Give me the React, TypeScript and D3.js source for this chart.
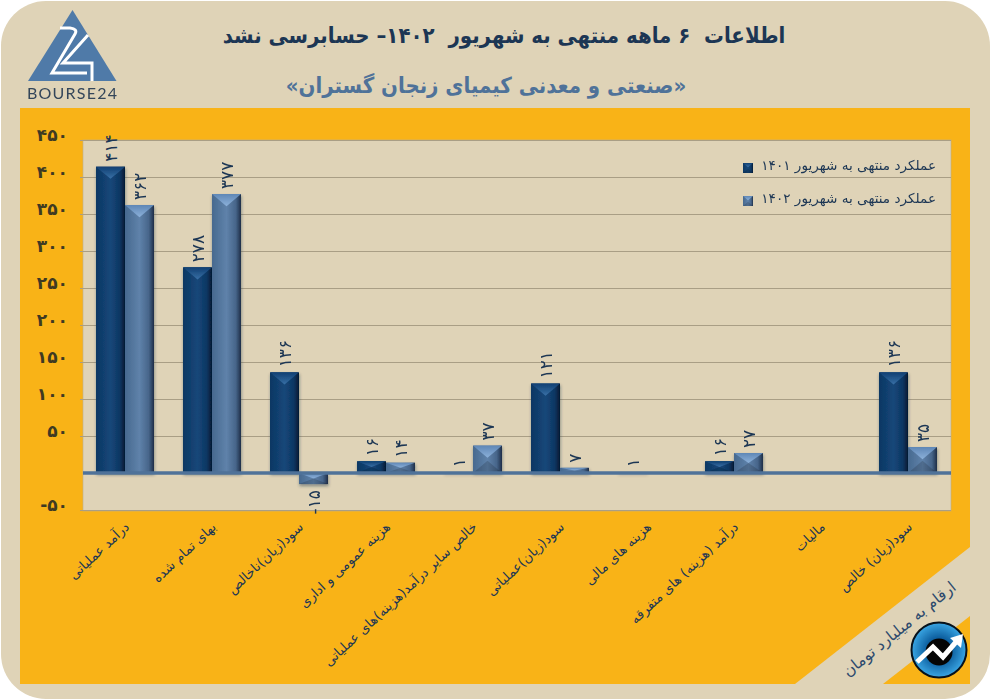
import React, { useEffect, useRef } from 'react';
import * as d3 from 'd3';

const titleText = 'اطلاعات  ۶ ماهه منتهی به شهریور  ۱۴۰۲– حسابرسی نشد';
const subtitleText = '«صنعتی و معدنی کیمیای زنجان گستران»';
const unitText = 'ارقام به میلیارد تومان';

const categories = [
  'درآمد عملیاتی',
  'بهای تمام شده',
  'سود(زیان)ناخالص',
  'هزینه عمومی و اداری',
  'خالص سایر درآمد(هزینه)های عملیاتی',
  'سود(زیان)عملیاتی',
  'هزینه های مالی',
  'درآمد (هزینه) های متفرقه',
  'مالیات',
  'سود(زیان) خالص',
];
const seriesNames = ['عملکرد منتهی به شهریور ۱۴۰۱', 'عملکرد منتهی به شهریور ۱۴۰۲'];
const values1401 = [414, 278, 136, 16, 1, 121, 1, 16, null, 136];
const values1402 = [362, 377, -15, 14, 37, 7, null, 27, null, 35];
const yTicks = [450, 400, 350, 300, 250, 200, 150, 100, 50, -50];

const FONT = '"DejaVu Sans", sans-serif';
const SAND = '#dfd3b7';
const ORANGE = '#f9b317';
const NAVY = '#1c3654';
const STEEL = '#4f7299';

const fa = (n: number) => String(n).replace(/\d/g, (d) => '۰۱۲۳۴۵۶۷۸۹'[+d]);

// one beveled bar, used for the plot and the legend markers
const drawBar = (g: any, i: number, x: number, y: number, w: number, h: number) => {
  g.append('rect').attr('x', x).attr('y', y).attr('width', w).attr('height', h)
    .attr('fill', `url(#side${i})`);
  if (h < 3) return;
  const t = Math.min(w * 0.42, h / 2);
  g.append('path').attr('d', d3.line()([[x, y], [x + w, y], [x + w / 2, y + t]]) + 'Z')
    .attr('fill', `url(#cap${i})`);
  if (h < 40) {
    g.append('path').attr('d', d3.line()([[x, y + h], [x + w, y + h], [x + w / 2, y + h - t]]) + 'Z')
      .attr('fill', '#000').attr('opacity', 0.16);
  }
};

const draw = (node: SVGSVGElement) => {
  const svg = d3.select(node);
  svg.selectAll('*').remove();

  const defs = svg.append('defs');
  const gradient = (id: string, horizontal: boolean, stops: [number, string][]) => {
    const lg = defs.append('linearGradient').attr('id', id)
      .attr('x1', 0).attr('y1', 0).attr('x2', horizontal ? 1 : 0).attr('y2', horizontal ? 0 : 1);
    stops.forEach(([o, c]) => lg.append('stop').attr('offset', o).attr('stop-color', c));
  };
  gradient('side0', true, [[0, '#0d3763'], [0.5, '#154779'], [0.82, '#0e3763'], [1, '#041a33']]);
  gradient('side1', true, [[0, '#47698f'], [0.5, '#5f82aa'], [0.82, '#47658a'], [1, '#1d2e47']]);
  gradient('cap0', false, [[0, '#0f3f72'], [1, '#3a70a6']]);
  gradient('cap1', false, [[0, '#5f87b6'], [1, '#8cb1da']]);
  const radial = defs.append('radialGradient').attr('id', 'iconBlue');
  radial.append('stop').attr('offset', 0.45).attr('stop-color', '#0d5f9f');
  radial.append('stop').attr('offset', 1).attr('stop-color', '#3aa6e4');
  defs.append('filter').attr('id', 'barShadow').attr('x', '-20%').attr('y', '-20%')
    .attr('width', '140%').attr('height', '140%')
    .append('feDropShadow').attr('dx', 0.5).attr('dy', 2).attr('stdDeviation', 1.4)
    .attr('flood-color', '#1c2c40').attr('flood-opacity', 0.45);

  // card and panels
  svg.append('rect').attr('width', 990).attr('height', 700).attr('fill', '#fff');
  svg.append('rect').attr('x', 1).attr('y', 1).attr('width', 989).attr('height', 698)
    .attr('rx', 45).attr('fill', SAND);
  svg.append('rect').attr('x', 20).attr('y', 108).attr('width', 950).attr('height', 576).attr('fill', ORANGE);
  svg.append('path').attr('d', 'M970 547L970 616L883 684L795 684Z').attr('fill', SAND);

  const left = 83, right = 951, top = 140, bottom = 511;
  svg.append('rect').attr('x', left).attr('y', top).attr('width', right - left).attr('height', bottom - top)
    .attr('fill', SAND).attr('stroke', '#b9ad91').attr('stroke-width', 0.6);

  // titles, squeezed a little to fit the width of the original
  svg.append('text').attr('transform', 'translate(504,43) scale(0.9,1)').attr('text-anchor', 'middle')
    .attr('font-family', FONT).attr('font-weight', 700).attr('font-size', 22)
    .attr('fill', NAVY).style('white-space', 'pre').text(titleText);
  svg.append('text').attr('transform', 'translate(486,93) scale(0.9,1)').attr('text-anchor', 'middle')
    .attr('font-family', FONT).attr('font-weight', 700).attr('font-size', 22)
    .attr('fill', STEEL).text(subtitleText);

  // scales
  const y = d3.scaleLinear().domain([-50, 450]).range([bottom - 1, top]);
  const x0 = d3.scaleBand().domain(categories).range([81.5, 951.5]);
  const x1 = d3.scaleBand().domain(['0', '1']).range([0, x0.bandwidth()]).paddingOuter(0.5);

  // y axis and grid
  const axis = svg.append('g').attr('transform', `translate(${left},0)`)
    .call(d3.axisLeft(y).tickValues(yTicks).tickFormat((d: any) => fa(d))
      .tickSizeInner(-(right - left)).tickSizeOuter(0).tickPadding(15));
  axis.select('.domain').remove();
  axis.selectAll('.tick line').attr('stroke', '#a99e85').attr('x1', -3);
  axis.selectAll('.tick text').attr('font-family', FONT).attr('font-weight', 700)
    .attr('font-size', 17).attr('fill', '#3f3a22').attr('dy', '0.02em')
    .attr('direction', 'ltr');

  // bars
  const series = [values1401, values1402];
  const bars = svg.append('g').attr('filter', 'url(#barShadow)');
  series.forEach((vals, s) => {
    vals.forEach((v, c) => {
      if (v === null) return;
      const bx = x0(categories[c])! + x1(String(s))!;
      const by = y(Math.max(v, 0));
      drawBar(bars, s, bx, by, x1.bandwidth(), Math.abs(y(v) - y(0)));
    });
  });
  svg.append('line').attr('x1', left).attr('x2', right).attr('y1', y(0)).attr('y2', y(0))
    .attr('stroke', STEEL).attr('stroke-width', 3.4);

  // value labels, rotated
  series.forEach((vals, s) => {
    vals.forEach((v, c) => {
      if (v === null) return;
      const lx = x0(categories[c])! + x1(String(s))! + x1.bandwidth() / 2;
      const ly = v < 0 ? y(v) + 6 : y(v) - 5;
      svg.append('text')
        .attr('transform', `translate(${lx + 6},${ly}) rotate(-90)`)
        .attr('text-anchor', v < 0 ? 'end' : 'start')
        .attr('direction', 'ltr')
        .attr('font-family', FONT).attr('font-size', 17).attr('fill', NAVY)
        .text(fa(v));
    });
  });

  // category labels
  categories.forEach((name) => {
    const cx = x0(name)! + x0.bandwidth() / 2;
    svg.append('text')
      .attr('transform', `translate(${cx + 5},${bottom + 17}) rotate(-43)`)
      .attr('direction', 'rtl').attr('text-anchor', 'start')
      .attr('font-family', FONT).attr('font-size', 13.2).attr('fill', NAVY)
      .text(name);
  });

  // legend
  seriesNames.forEach((name, s) => {
    const ly = [163, 196][s];
    drawBar(svg.append('g'), s, 743, ly, 10, 10);
    svg.append('text').attr('x', 936).attr('y', ly + 7)
      .attr('direction', 'rtl').attr('text-anchor', 'start')
      .attr('font-family', FONT).attr('font-size', 13.6).attr('fill', NAVY).text(name);
  });

  // unit note on the diagonal band
  svg.append('text')
    .attr('transform', 'translate(957,589) rotate(-39)')
    .attr('direction', 'rtl').attr('text-anchor', 'start')
    .attr('font-family', FONT).attr('font-size', 15.6).attr('fill', '#2d4a6d')
    .text(unitText);

  // logo
  const logo = svg.append('g');
  logo.append('path').attr('d', 'M72.5 10L116.5 81L28 81Z').attr('fill', '#4f7aa8');
  logo.append('path').attr('d', 'M60 28L70 28Q78 29 75 34L52 73L87 73')
    .attr('fill', 'none').attr('stroke', '#fff').attr('stroke-width', 3);
  logo.append('path').attr('d', 'M88 35L63 63L92 63L92 81')
    .attr('fill', 'none').attr('stroke', '#fff').attr('stroke-width', 3);
  logo.append('text').attr('x', 27).attr('y', 98.5).attr('textLength', 90)
    .attr('font-family', 'Lato, sans-serif').attr('font-size', 16).attr('fill', '#34465a')
    .text('BOURSE24');

  // round badge
  const badge = svg.append('g');
  badge.append('circle').attr('cx', 939).attr('cy', 650).attr('r', 27.5)
    .attr('fill', 'url(#iconBlue)').attr('stroke', '#07121c').attr('stroke-width', 2);
  badge.append('circle').attr('cx', 939).attr('cy', 652).attr('r', 13.5).attr('fill', '#050505');
  badge.append('path').attr('d', 'M917 662L933 647L943 657L956 642')
    .attr('fill', 'none').attr('stroke', '#fff').attr('stroke-width', 5);
  badge.append('path').attr('d', 'M950 638L963 634L961 648Z').attr('fill', '#fff');
};

export default function App() {
  const ref = useRef<SVGSVGElement>(null);
  useEffect(() => {
    if (ref.current) draw(ref.current);
  }, []);
  return (
    <svg
      ref={ref}
      width={990}
      height={700}
      style={{ position: 'absolute', left: 0, top: 0, display: 'block' }}
    />
  );
}
